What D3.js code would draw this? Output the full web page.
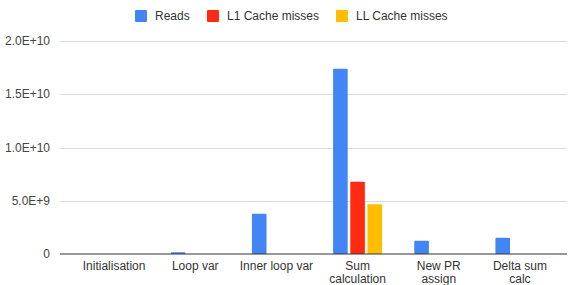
<!DOCTYPE html>
<html>
<head>
<meta charset="utf-8">
<script src="https://cdn.jsdelivr.net/npm/d3@7/dist/d3.min.js"></script>
<style>
  body { margin: 0; background: #fff; }
  svg { display: block; font-family: Arial, "Liberation Sans", sans-serif; }
</style>
</head>
<body>
<div id="chart"></div>
<script>
const categories = [
  ['Initialisation'],
  ['Loop var'],
  ['Inner loop var'],
  ['Sum', 'calculation'],
  ['New PR', 'assign'],
  ['Delta sum', 'calc']
];
const seriesNames = ['Reads', 'L1 Cache misses', 'LL Cache misses'];
const seriesColors = ['#4285F4', '#FF2A12', '#FFBF00'];
const reads = [0, 1.6e8, 3.78e9, 1.74e10, 1.25e9, 1.53e9];
const l1Misses = [0, 0, 0, 6.78e9, 0, 0];
const llMisses = [0, 0, 0, 4.66e9, 0, 0];
const yTicks = [0, 5e9, 1e10, 1.5e10, 2e10];
const yTickLabels = ['0', '5.0E+9', '1.0E+10', '1.5E+10', '2.0E+10'];

const width = 569, height = 285;
const plot = { left: 60, right: 567, top: 41, bottom: 254 };

const svg = d3.select('#chart').append('svg')
  .attr('width', width)
  .attr('height', height);

const y = d3.scaleLinear().domain([0, 2e10]).range([plot.bottom, plot.top]);

const x0 = d3.scaleBand()
  .domain(d3.range(categories.length))
  .range([73.5, 560.5]);

const groupW = 49;
const x1 = d3.scaleBand()
  .domain(d3.range(seriesNames.length))
  .range([(x0.bandwidth() - groupW) / 2, (x0.bandwidth() + groupW) / 2])
  .paddingInner(0.15);

// gridlines
svg.append('g')
  .selectAll('line')
  .data(yTicks.filter(d => d > 0))
  .enter()
  .append('line')
  .attr('x1', plot.left)
  .attr('x2', plot.right)
  .attr('y1', d => Math.round(y(d)) + 0.5)
  .attr('y2', d => Math.round(y(d)) + 0.5)
  .style('stroke', '#dcdcdc')
  .style('stroke-width', 1);

// y labels
svg.append('g')
  .selectAll('text')
  .data(yTicks)
  .enter()
  .append('text')
  .attr('x', 50)
  .attr('y', d => y(d))
  .attr('dy', '0.35em')
  .attr('text-anchor', 'end')
  .style('font-size', '12px')
  .style('fill', '#444')
  .text((d, i) => yTickLabels[i]);

// bars
const data = [reads, l1Misses, llMisses];
const groups = svg.append('g')
  .selectAll('g')
  .data(categories)
  .enter()
  .append('g')
  .attr('transform', (d, i) => `translate(${x0(i)},0)`);

groups.selectAll('rect')
  .data((d, i) => data.map((s, k) => ({ k: k, v: s[i] })))
  .enter()
  .filter(d => d.v > 0)
  .append('rect')
  .attr('x', d => x1(d.k))
  .attr('y', d => y(d.v))
  .attr('width', x1.bandwidth())
  .attr('height', d => y(0) - y(d.v))
  .attr('rx', 1)
  .style('fill', d => seriesColors[d.k]);

// baseline
svg.append('line')
  .attr('x1', plot.left)
  .attr('x2', plot.right)
  .attr('y1', y(0))
  .attr('y2', y(0))
  .style('stroke', '#333')
  .style('stroke-width', 1);

// x labels
groups.append('text')
  .attr('x', x0.bandwidth() / 2)
  .attr('y', 270)
  .attr('text-anchor', 'middle')
  .style('font-size', '12px')
  .style('fill', '#333')
  .selectAll('tspan')
  .data(d => d)
  .enter()
  .append('tspan')
  .attr('x', x0.bandwidth() / 2)
  .attr('dy', (d, i) => i === 0 ? 0 : 12.5)
  .text(d => d);

// legend
const legendX = [135, 207, 336];
const legend = svg.append('g')
  .selectAll('g')
  .data(seriesNames)
  .enter()
  .append('g')
  .attr('transform', (d, i) => `translate(${legendX[i]},10)`);

legend.append('rect')
  .attr('width', 12)
  .attr('height', 12)
  .attr('rx', 1)
  .style('fill', (d, i) => seriesColors[i]);

legend.append('text')
  .attr('x', 20)
  .attr('y', 6)
  .attr('dy', '0.35em')
  .style('font-size', '12px')
  .style('fill', '#333')
  .text(d => d);
</script>
</body>
</html>
